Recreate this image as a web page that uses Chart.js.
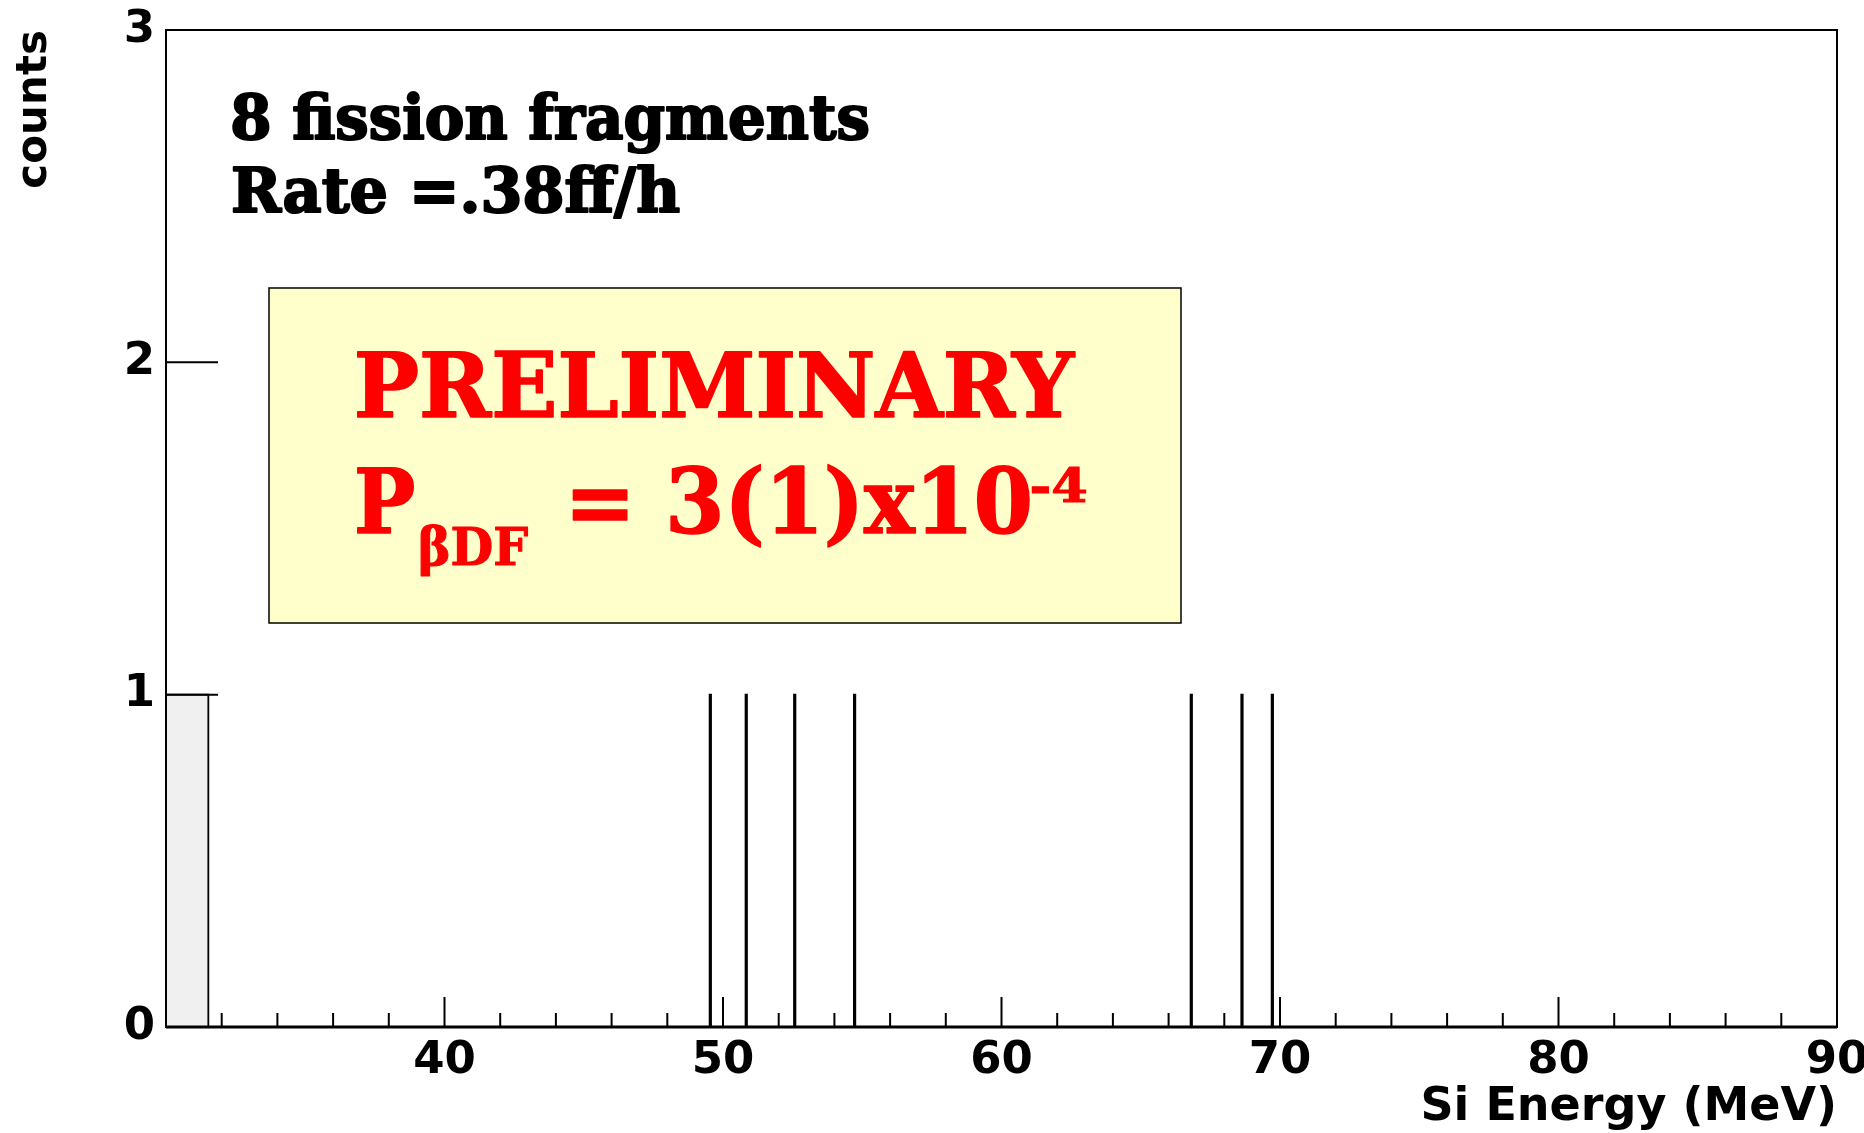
<!DOCTYPE html>
<html>
<head>
<meta charset="utf-8">
<script src="https://cdn.jsdelivr.net/npm/chart.js@4.4.1/dist/chart.umd.min.js"></script>
<style>
  html, body { margin: 0; padding: 0; background: #ffffff; }
  canvas { display: block; }
</style>
</head>
<body>
<canvas id="spettro" width="1864" height="1133"></canvas>
<script>
// istogramma dei frammenti di fissione: bordi dei bin (MeV) e conteggi
const binLow    = [29.00, 49.52, 50.81, 52.55, 54.70, 66.79, 68.61, 69.70];
const binHigh   = [31.52, 49.57, 50.86, 52.60, 54.75, 66.84, 68.66, 69.75];
const binCounts = [1, 1, 1, 1, 1, 1, 1, 1];

// etichette degli assi
const xLabelValues = [40, 50, 60, 70, 80, 90];
const yLabelValues = [0, 1, 2, 3];

const nota1 = '8 fission fragments';
const nota2 = 'Rate =.38ff/h';

// contorno a gradini dell'istogramma
const contorno = [];
binLow.forEach((lo, i) => {
    contorno.push(
        { x: lo, y: 0 },
        { x: lo, y: binCounts[i] },
        { x: binHigh[i], y: binCounts[i] },
        { x: binHigh[i], y: 0 }
    );
});

const fontAssi = { family: "'DejaVu Sans', sans-serif", weight: 'bold', size: 45 };

// testo adattato a una larghezza data (solo in orizzontale), con bordo per ispessirlo
function scriviAdattato(ctx, testo, sinistra, destra, base, font, colore, spessore) {
    ctx.save();
    ctx.font = font;
    ctx.fillStyle = colore;
    ctx.strokeStyle = colore;
    ctx.lineJoin = 'round';
    ctx.textAlign = 'left';
    ctx.textBaseline = 'alphabetic';
    const m = ctx.measureText(testo);
    const larghezza = m.actualBoundingBoxLeft + m.actualBoundingBoxRight;
    ctx.translate(sinistra, base);
    ctx.scale((destra - sinistra) / larghezza, 1);
    ctx.fillText(testo, m.actualBoundingBoxLeft, 0);
    if (spessore) {
        ctx.lineWidth = spessore;
        ctx.strokeText(testo, m.actualBoundingBoxLeft, 0);
    }
    ctx.restore();
}

// cornice e tacche interne stile ROOT
const tacche = {
    id: 'tacche',
    afterDatasetsDraw(chart) {
        const { ctx, chartArea: a, scales: { x, y } } = chart;
        ctx.save();
        ctx.strokeStyle = '#000000';
        ctx.lineWidth = 2;
        ctx.strokeRect(a.left, a.top, a.right - a.left, a.bottom - a.top);

        ctx.beginPath();
        x.ticks.forEach(t => {
            const px = x.getPixelForValue(t.value);
            const len = t.value % 10 === 0 ? 30 : 14;
            ctx.moveTo(px, a.bottom);
            ctx.lineTo(px, a.bottom - len);
        });
        y.ticks.forEach(t => {
            const py = y.getPixelForValue(t.value);
            ctx.moveTo(a.left, py);
            ctx.lineTo(a.left + 52, py);
        });
        ctx.stroke();

        ctx.lineWidth = 3;
        ctx.beginPath();
        ctx.moveTo(a.left, a.bottom);
        ctx.lineTo(a.right, a.bottom);
        ctx.stroke();
        ctx.restore();
    }
};

// note di testo e riquadro giallo
const note = {
    id: 'note',
    afterDraw(chart) {
        const ctx = chart.ctx;
        const serif = "'DejaVu Serif', serif";
        const serifStretto = "'DejaVu Serif Condensed', 'DejaVu Serif', serif";

        scriviAdattato(ctx, nota1, 233, 868, 139, 'bold 62px ' + serif, '#000000', 2.2);
        scriviAdattato(ctx, nota2, 233, 679, 212, 'bold 62px ' + serif, '#000000', 2.2);

        ctx.save();
        ctx.fillStyle = '#ffffcc';
        ctx.fillRect(269, 288, 912, 335);
        ctx.strokeStyle = '#000000';
        ctx.lineWidth = 1.5;
        ctx.strokeRect(269, 288, 912, 335);
        ctx.restore();

        const rosso = '#ff0000';
        scriviAdattato(ctx, 'PRELIMINARY', 357, 1075, 417, 'bold 89px ' + serifStretto, rosso, 1.5);
        scriviAdattato(ctx, 'P', 357, 414, 533, 'bold 89px ' + serifStretto, rosso, 1.5);
        scriviAdattato(ctx, '\u03B2DF', 420, 528, 565, 'bold 52px ' + serifStretto, rosso, 1);
        scriviAdattato(ctx, '= 3(1)x10', 573, 1029, 533, 'bold 89px ' + serifStretto, rosso, 1.5);
        scriviAdattato(ctx, '-4', 1032, 1086, 502, 'bold 47px ' + serifStretto, rosso, 1);
    }
};

const ctx = document.getElementById('spettro').getContext('2d');
new Chart(ctx, {
    type: 'line',
    data: {
        datasets: [{
            label: 'counts',
            data: contorno,
            borderColor: '#000000',
            borderWidth: 1.8,
            backgroundColor: '#f0f0f0',
            fill: 'origin',
            pointRadius: 0,
            tension: 0
        }]
    },
    options: {
        responsive: false,
        animation: false,
        layout: { padding: { top: 30, right: 27, bottom: 0, left: 0 } },
        plugins: {
            legend: { display: false },
            tooltip: { enabled: false }
        },
        scales: {
            x: {
                type: 'linear',
                min: 30,
                max: 90,
                grid: { display: false, drawTicks: false },
                border: { display: false },
                ticks: {
                    stepSize: 2,
                    autoSkip: false,
                    maxRotation: 0,
                    padding: 7,
                    color: '#000000',
                    font: fontAssi,
                    callback: v => xLabelValues.includes(v) ? String(v) : ''
                },
                title: {
                    display: true,
                    text: 'Si Energy (MeV)',
                    align: 'end',
                    color: '#000000',
                    font: { family: "'DejaVu Sans', sans-serif", weight: 'bold', size: 46, lineHeight: 1 },
                    padding: { top: 0, bottom: 2 }
                },
                afterFit: s => { s.height = 106; s.paddingLeft = 0; s.paddingRight = 0; }
            },
            y: {
                min: 0,
                max: 3,
                grid: { display: false, drawTicks: false },
                border: { display: false },
                ticks: {
                    stepSize: 1,
                    padding: 11,
                    color: '#000000',
                    font: fontAssi,
                    callback: v => yLabelValues.includes(v) ? String(v) : ''
                },
                title: {
                    display: true,
                    text: 'counts',
                    align: 'end',
                    color: '#000000',
                    font: { family: "'DejaVu Sans', sans-serif", weight: 'bold', size: 42, lineHeight: 1 },
                    padding: { top: 14, bottom: 0 }
                },
                afterFit: s => { s.width = 166; s.paddingTop = 0; s.paddingBottom = 0; }
            }
        }
    },
    plugins: [tacche, note]
});
</script>
</body>
</html>
